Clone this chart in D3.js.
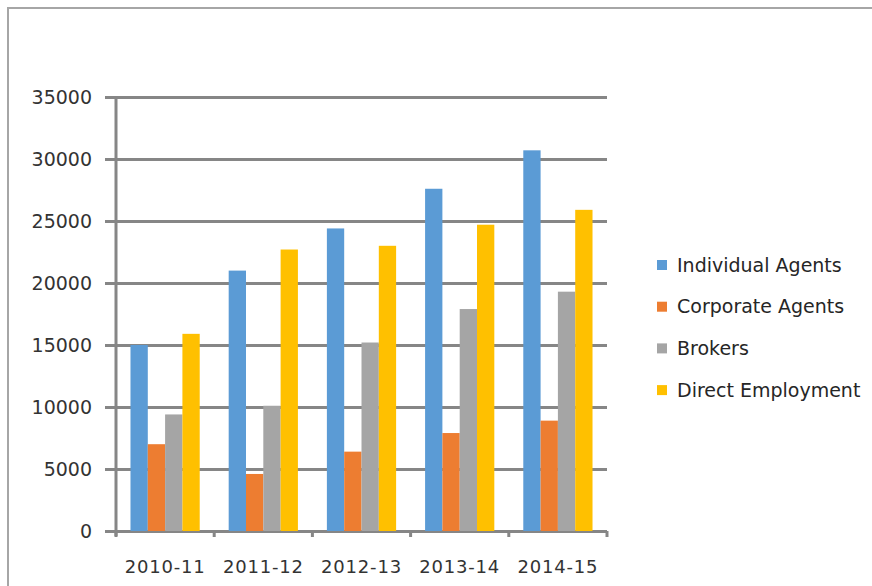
<!DOCTYPE html>
<html lang="en">
<head>
  <meta charset="UTF-8">
  <title>Agents chart</title>
  <script type="text/javascript" src="https://cdnjs.cloudflare.com/ajax/libs/d3/7.8.5/d3.min.js"></script>
  <style type="text/css">
  body {
    margin: 0;
    padding: 0;
    background: #fff;
  }
  svg {
    display: block;
  }
  .grid line {
    stroke: #868686;
    stroke-width: 3px;
  }
  .axisText {
    fill: #333;
    font-family: "DejaVu Sans", sans-serif;
    font-size: 18px;
  }
  .legendText {
    fill: #262626;
    font-family: "DejaVu Sans", sans-serif;
    font-size: 19px;
  }
  </style>
</head>
<body>
  <div id="chart"></div>
</body>
<script type="text/javascript">
  var width = 872, height = 586;
  var plotLeft = 116, plotRight = 607, plotTop = 97, plotBottom = 531;

  // data
  var years = ['2010-11', '2011-12', '2012-13', '2013-14', '2014-15'];
  var seriesNames = ['Individual Agents', 'Corporate Agents', 'Brokers', 'Direct Employment'];
  var individual = [15000, 21000, 24400, 27600, 30700];
  var corporate = [7000, 4600, 6400, 7900, 8900];
  var brokers = [9400, 10100, 15200, 17900, 19300];
  var direct = [15900, 22700, 23000, 24700, 25900];
  var yTicks = [0, 5000, 10000, 15000, 20000, 25000, 30000, 35000];
  var colors = ['#5B9BD5', '#ED7D31', '#A5A5A5', '#FFC000'];

  var values = [individual, corporate, brokers, direct];

  var svg = d3.select('#chart')
    .append('svg')
    .attr('width', width)
    .attr('height', height);

  // frame (only top and left edges are visible)
  svg.append('path')
    .attr('d', 'M8,' + height + 'V8H' + width)
    .attr('fill', 'none')
    .attr('stroke', '#a6a6a6')
    .attr('stroke-width', 2);

  var x0 = d3.scaleBand()
    .domain(years)
    .range([plotLeft, plotRight])
    .paddingInner(0.295)
    .paddingOuter(0.1475);

  var x1 = d3.scaleBand()
    .domain(seriesNames)
    .range([0, x0.bandwidth()]);

  var y = d3.scaleLinear()
    .domain([0, 35000])
    .range([plotBottom, plotTop]);

  var color = d3.scaleOrdinal()
    .domain(seriesNames)
    .range(colors);

  // gridlines + y labels
  var yAxis = d3.axisLeft(y)
    .tickValues(yTicks)
    .tickSize(-(plotRight - plotLeft) - 11)
    .tickPadding(13)
    .tickFormat(d3.format('d'));

  var yG = svg.append('g')
    .attr('class', 'grid')
    .attr('transform', 'translate(' + (plotLeft - 11) + ',0)')
    .call(yAxis)
    .attr('font-family', null)
    .attr('font-size', null);
  yG.select('.domain').remove();
  yG.selectAll('text').attr('class', 'axisText').style('font-size', '19px');

  // bars
  var rows = [];
  years.forEach(function(yr, i) {
    seriesNames.forEach(function(s, j) {
      rows.push({ year: yr, series: s, value: values[j][i] });
    });
  });

  svg.selectAll('.bar')
    .data(rows)
    .enter()
    .append('rect')
    .attr('class', 'bar')
    .attr('x', function(d) { return x0(d.year) + x1(d.series); })
    .attr('y', function(d) { return y(d.value); })
    .attr('width', x1.bandwidth())
    .attr('height', function(d) { return plotBottom - y(d.value); })
    .attr('fill', function(d) { return color(d.series); });

  // y axis line
  svg.append('line')
    .attr('x1', plotLeft).attr('x2', plotLeft)
    .attr('y1', plotTop).attr('y2', plotBottom + 5)
    .attr('stroke', '#868686')
    .attr('stroke-width', 3);

  // x axis with category ticks
  var xAxis = d3.axisBottom(x0)
    .tickSize(0)
    .tickPadding(29);

  var xG = svg.append('g')
    .attr('transform', 'translate(0,' + plotBottom + ')')
    .call(xAxis)
    .attr('font-family', null)
    .attr('font-size', null);
  xG.select('.domain').remove();
  xG.selectAll('text').attr('class', 'axisText').style('letter-spacing', '0.8px');

  var step = x0.step();
  var bounds = d3.range(years.length + 1).map(function(i) { return plotLeft + i * step; });
  svg.selectAll('.xtick')
    .data(bounds)
    .enter()
    .append('line')
    .attr('class', 'xtick')
    .attr('x1', function(d) { return d; })
    .attr('x2', function(d) { return d; })
    .attr('y1', plotBottom)
    .attr('y2', plotBottom + 6)
    .attr('stroke', '#868686')
    .attr('stroke-width', 3);

  // legend
  var legend = svg.selectAll('.legend')
    .data(seriesNames)
    .enter()
    .append('g')
    .attr('class', 'legend')
    .attr('transform', function(d, i) { return 'translate(657,' + (265 + i * 41.7) + ')'; });

  legend.append('rect')
    .attr('x', 0)
    .attr('y', -5)
    .attr('width', 10)
    .attr('height', 10)
    .attr('fill', function(d) { return color(d); });

  legend.append('text')
    .attr('class', 'legendText')
    .attr('x', 20)
    .attr('dy', '0.35em')
    .text(function(d) { return d; });
</script>
</html>
